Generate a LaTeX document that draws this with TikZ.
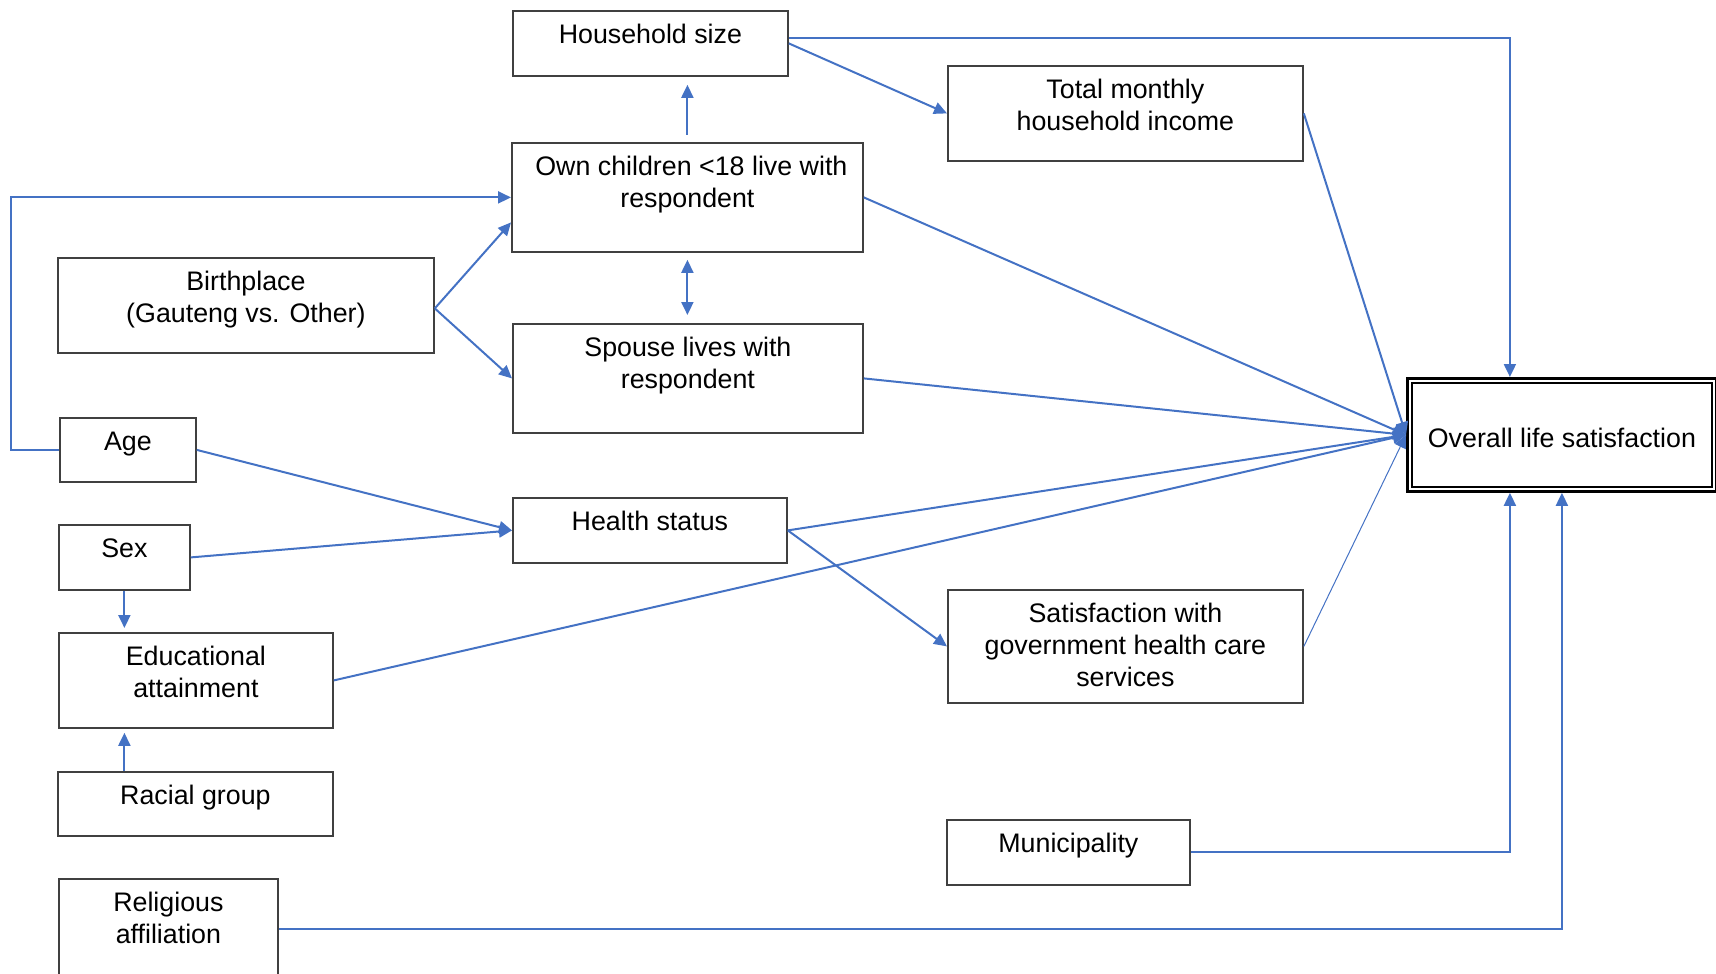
\documentclass[tikz,border=0pt]{standalone}
\usepackage{fontspec}
\setmainfont{Liberation Sans}
\usetikzlibrary{arrows.meta,calc}
\definecolor{linkblue}{HTML}{4472C4}
\definecolor{boxline}{HTML}{404040}
% width, height, first-baseline depth, text: text hangs from the top of the box
\newcommand\boxlabel[4]{\parbox[t][#2][t]{#1}{\centering\rule{0pt}{#3}#4}}

\begin{document}
\begin{tikzpicture}[x=0.5pt,y=-0.5pt,
  box/.style={draw=boxline, line width=0.9pt, inner sep=0pt, anchor=north west,
    font=\fontsize{13.4pt}{16pt}\selectfont},
  tip/.tip={Triangle[length=6.5pt,width=6pt]},
  link/.style={draw=linkblue, line width=1pt, -tip},
  bilink/.style={draw=linkblue, line width=1pt, tip-tip},
  thinlink/.style={link, line width=0.5pt}]

\useasboundingbox (0,0) rectangle (1716,973);

% variable boxes
\node[box] (hh)     at (512,10)  {\boxlabel{137.5pt}{32.5pt}{16.5pt}{Household size}};
\node[box] (own)    at (511,142) {\boxlabel{175.5pt}{54.5pt}{16.5pt}{\hspace*{4pt}Own children <18 live with\\respondent}};
\node[box] (total)  at (947,65)  {\boxlabel{177.5pt}{47.5pt}{16.5pt}{Total monthly\\household income}};
\node[box] (bp)     at (57,257)  {\boxlabel{188pt}{47.5pt}{16.5pt}{Birthplace\\(Gauteng vs. Other)}};
\node[box] (spouse) at (512,323) {\boxlabel{175pt}{54.5pt}{16.5pt}{Spouse lives with\\respondent}};
\node[box] (age)    at (59,417)  {\boxlabel{68pt}{32pt}{16.5pt}{Age}};
\node[box] (health) at (512,497) {\boxlabel{137pt}{32.5pt}{16.5pt}{Health status}};
\node[box] (sex)    at (58,524)  {\boxlabel{65.5pt}{32.5pt}{16.5pt}{Sex}};
\node[box] (edu)    at (58,632)  {\boxlabel{137pt}{47.5pt}{16.5pt}{Educational\\attainment}};
\node[box] (gov)    at (947,589) {\boxlabel{177.5pt}{56.5pt}{16.5pt}{Satisfaction with\\government health care\\services}};
\node[box] (racial) at (57,771)  {\boxlabel{137.5pt}{32pt}{16.5pt}{Racial group}};
\node[box] (mun)    at (946,819) {\boxlabel{121.5pt}{32.5pt}{16.5pt}{Municipality}};
\node[box] (rel)    at (58,878)  {\boxlabel{109.5pt}{50pt}{16.5pt}{Religious\\affiliation}};

% outcome box with a double frame
\node[box, draw=black, line width=1.4pt] (ov) at (1406,377)
  {\boxlabel{154.5pt}{56.5pt}{34.5pt}{Overall life satisfaction}};
\draw[black, line width=1pt] ($(ov.north west)+(6,6)$) rectangle ($(ov.south east)+(-6,-6)$);

% paths
\draw[link] ($(hh.east)+(0,-5)$) -| ($(ov.north)+(-52,0)$);
\draw[link] (hh.east) -- (total.west);
\draw[link, shorten <=3.5pt, shorten >=4pt] (own.north) -- (own.north |- hh.south);
\draw[bilink, shorten <=3.5pt, shorten >=4pt] (own.south) -- (own.south |- spouse.north);
\draw[link] (age.west) -- ++(-48,0) |- (own.west);
\draw[link] ($(bp.east)+(0,3)$) -- ($(own.west)+(0,25)$);
\draw[link] ($(bp.east)+(0,3)$) -- (spouse.west);
\draw[link] (own.east) -- (ov.west);
\draw[link] (total.east) -- (ov.west);
\draw[link] (spouse.east) -- (ov.west);
\draw[link] (health.east) -- (ov.west);
\draw[link] (edu.east) -- (ov.west);
\draw[thinlink] (gov.east) -- (ov.west);
\draw[link] (age.east) -- (health.west);
\draw[link] (sex.east) -- (health.west);
\draw[link] (health.east) -- (gov.west);
\draw[link, shorten >=2pt] (sex.south) -- (sex.south |- edu.north);
\draw[link, shorten >=2pt] (sex.south |- racial.north) -- (sex.south |- edu.south);
\draw[link] (mun.east) -| ($(ov.south)+(-52,0)$);
\draw[link] (rel.east) -| (ov.south);
\end{tikzpicture}
\end{document}
